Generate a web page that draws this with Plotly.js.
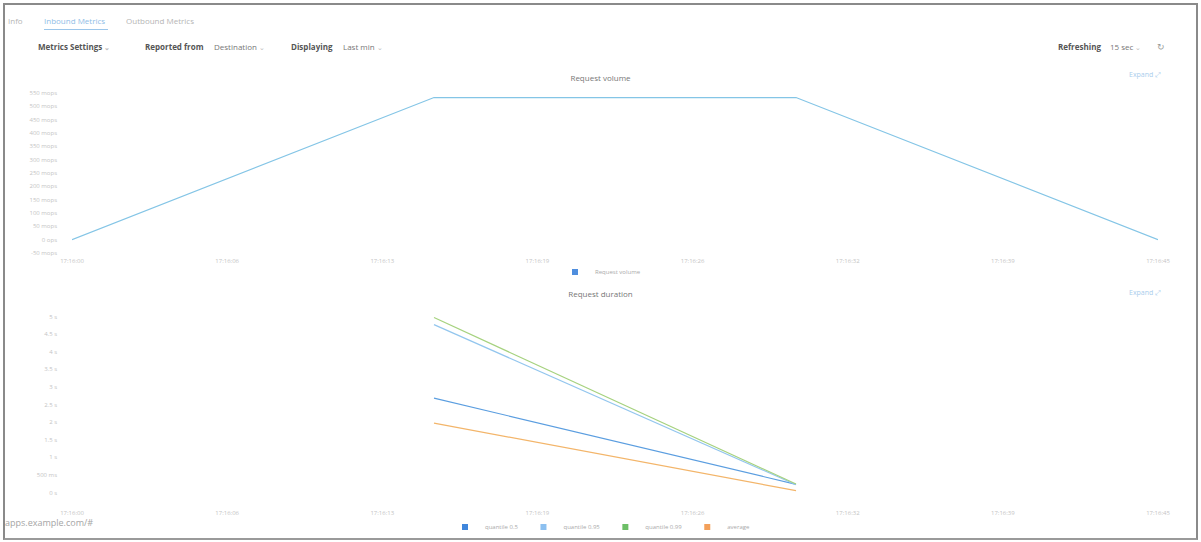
<!DOCTYPE html>
<html>
<head>
<meta charset="utf-8">
<script src="https://cdn.plot.ly/plotly-3.0.1.min.js"></script>
<style>
  html, body { margin:0; padding:0; background:#fff; width:1201px; height:542px; overflow:hidden; font-family:"Open Sans", "Noto Sans", sans-serif; }
  .frame { position:absolute; left:3px; top:3px; width:1191px; height:533px; border:2px solid #8a8a8a; border-bottom-color:#9a9a9a; }
  .abs { position:absolute; white-space:nowrap; }
  .tab { font-size:8px; color:#b5b5b5; top:15px; }
  .tab.active { color:#8fbde6; }
  .underline { position:absolute; left:44px; top:29px; width:64px; height:1px; background:#9cc6ea; }
  .bar { font-size:8px; top:41px; color:#444; }
  .bold { font-weight:700; color:#555; }
  .light { color:#777; }
  .chev { color:#bbb; font-size:7px; }
  .expand { font-size:7px; color:#a9cdec; }
  #c1 { position:absolute; left:0; top:68px; width:1201px; height:215px; }
  #c2 { position:absolute; left:0; top:285px; width:1201px; height:255px; }
  .url { font-size:9px; color:#a5a5a5; left:5px; top:516px; }
</style>
</head>
<body>
<div id="c1"></div>
<div id="c2"></div>
<div class="abs tab" style="left:8px">Info</div>
<div class="abs tab active" style="left:44px">Inbound Metrics</div>
<div class="abs tab" style="left:126px">Outbound Metrics</div>
<div class="underline"></div>
<div class="abs bar bold" style="left:38px">Metrics Settings <span class="chev">&#8964;</span></div>
<div class="abs bar bold" style="left:145px">Reported from</div>
<div class="abs bar light" style="left:214px">Destination <span class="chev">&#8964;</span></div>
<div class="abs bar bold" style="left:291px">Displaying</div>
<div class="abs bar light" style="left:343px">Last min <span class="chev">&#8964;</span></div>
<div class="abs bar bold" style="left:1058px">Refreshing</div>
<div class="abs bar light" style="left:1110px">15 sec <span class="chev">&#8964;</span></div>
<div class="abs bar" style="left:1157px;color:#999;font-size:9px;top:40px">&#8635;</div>
<div class="abs expand" style="left:1129px;top:70px">Expand &#10530;</div>
<div class="abs expand" style="left:1129px;top:288px">Expand &#10530;</div>
<div class="abs url">apps.example.com/#</div>
<div class="frame"></div>
<script>
// ---- data ----
const times = [0, 15, 30, 45];                 // seconds from window start
const tickLabels = ["17:16:00","17:16:06","17:16:13","17:16:19","17:16:26","17:16:32","17:16:39","17:16:45"];
const volumeValues = [0, 533, 533, 0];          // mops
const volumeTickVals = [-50,0,50,100,150,200,250,300,350,400,450,500,550];
const volumeTickText = ["-50 mops","0 ops","50 mops","100 mops","150 mops","200 mops","250 mops","300 mops","350 mops","400 mops","450 mops","500 mops","550 mops"];
const q50 = [null, 2.68, 0.23, null];           // seconds
const q95 = [null, 4.77, 0.22, null];
const q99 = [null, 4.97, 0.24, null];
const avg = [null, 1.97, 0.05, null];
const durTickVals = [0,0.5,1,1.5,2,2.5,3,3.5,4,4.5,5];
const durTickText = ["0 s","500 ms","1 s","1.5 s","2 s","2.5 s","3 s","3.5 s","4 s","4.5 s","5 s"];
const seriesNames = ["quantile 0.5","quantile 0.95","quantile 0.99","average"];
const seriesColors = ["#5b9ee0","#93c6ee","#a6d27f","#f3b56a"];
const legendColors = ["#3f86dc","#8cc0f0","#6dbf67","#f3a05a"];

const tickVals = tickLabels.map((_, i) => i * times[times.length-1] / (tickLabels.length-1));
const font = {family: '"Open Sans", "Noto Sans", sans-serif', size: 6, color: '#c4c4c4'};

function xaxis(standoff) {
  return {range:[times[0], times[times.length-1]], tickvals: tickVals, ticktext: tickLabels,
          showgrid:false, zeroline:false, showline:false, ticks:'', ticklabelstandoff: standoff,
          tickfont:{...font}, fixedrange:true};
}
function legendDummy(name, color) {
  return {x:[null], y:[null], type:'scatter', mode:'markers', name:name,
          marker:{symbol:'square', size:6, color:color}, hoverinfo:'skip'};
}
function legend(yc) {
  return {orientation:'h', x:0.5, xanchor:'center', xref:'container', y:yc, yanchor:'middle', yref:'container',
          font:{family: font.family, size:6, color:'#aaa'}, itemwidth:30, tracegroupgap:0};
}

// ---- chart 1: request volume ----
Plotly.newPlot('c1', [
  {x: times, y: volumeValues, type:'scatter', mode:'lines', name:'Request volume', showlegend:false,
   line:{color:'#84c5e6', width:1.2}},
  legendDummy('Request volume', '#4f8ede')
], {
  width:1201, height:215,
  margin:{l:72, r:43, t:25, b:30},
  paper_bgcolor:'rgba(0,0,0,0)', plot_bgcolor:'rgba(0,0,0,0)',
  title:{text:'Request volume', x:0.5, xanchor:'center', y:0.953, yanchor:'middle', yref:'container',
         font:{family: font.family, size:8, color:'#777'}},
  xaxis: xaxis(3),
  yaxis:{range:[-50,550], tickvals:volumeTickVals, ticktext:volumeTickText, showgrid:false, zeroline:false,
         ticks:'', ticklabelstandoff:14, tickfont:{...font}, fixedrange:true},
  showlegend:true,
  legend: legend(1 - 204/215)
}, {displayModeBar:false, staticPlot:true});

// ---- chart 2: request duration ----
const durSeries = [q50, q95, q99, avg];
const traces2 = durSeries.map((vals, i) => ({
  x: times, y: vals, type:'scatter', mode:'lines', name: seriesNames[i], showlegend:false,
  connectgaps:false, line:{color: seriesColors[i], width:1.2}
}));
seriesNames.forEach((n, i) => traces2.push(legendDummy(n, legendColors[i])));

Plotly.newPlot('c2', traces2, {
  width:1201, height:255,
  margin:{l:72, r:43, t:27.5, b:37.4},
  paper_bgcolor:'rgba(0,0,0,0)', plot_bgcolor:'rgba(0,0,0,0)',
  title:{text:'Request duration', x:0.5, xanchor:'center', y:1-(9/255), yanchor:'middle', yref:'container',
         font:{family: font.family, size:8, color:'#777'}},
  xaxis: xaxis(5),
  yaxis:{range:[-0.3,5.1], tickvals:durTickVals, ticktext:durTickText, showgrid:false, zeroline:false,
         ticks:'', ticklabelstandoff:14, tickfont:{...font}, fixedrange:true},
  showlegend:true,
  legend: legend(1 - 242/255)
}, {displayModeBar:false, staticPlot:true});
</script>
</body>
</html>
